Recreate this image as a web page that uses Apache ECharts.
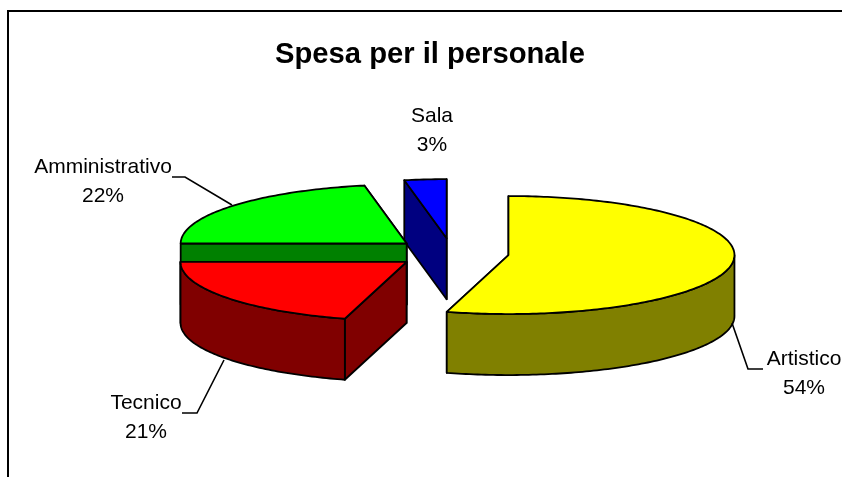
<!DOCTYPE html>
<html>
<head>
<meta charset="utf-8">
<style>
  html, body { margin: 0; padding: 0; background: #fff; }
  #chart { width: 842px; height: 477px; overflow: hidden; }
</style>
</head>
<body>
<div id="chart"></div>
<script src="https://cdn.jsdelivr.net/npm/echarts@6/dist/echarts.min.js"></script>
<script>
// dati (in senso orario dalle ore 12)
const categories = ['Artistico', 'Tecnico', 'Amministrativo', 'Sala'];
const values = [54.4, 20.6, 22, 3];

const topColors = ['#ffff00', '#ff0000', '#00ff00', '#0000ff'];
const sideColors = ['#808000', '#800000', '#008000', '#000080'];
const drawOrder = [3, 2, 1, 0]; // z di ogni fetta: Sala dietro, Artistico davanti

// geometria della torta finta 3d
const cx = 452, cy = 253, rx = 226, ry = 59, depth = 61, explode = 57;
const nudgeX = [0, 0, -1.4, 0]; // Amministrativo e Tecnico hanno lo stesso bordo destro nell'originale

// posizione etichette e linee guida
const labelPos = [[804, 374], [146, 418], [103, 182], [432, 131]];
const leaders = [
  [[732, 323], [748, 369], [763, 369]],
  [[224, 360], [197, 413], [182, 413]],
  [[232, 205], [185, 177], [172, 177]],
  null
];

const total = values.reduce((a, b) => a + b, 0);
const rad = (d) => d * Math.PI / 180;

function renderSlice(params, api) {
  const i = params.dataIndex;
  let before = 0;
  for (let k = 0; k < i; k++) before += values[k];
  const a0 = before / total * 360;
  const a1 = a0 + api.value(0) / total * 360;
  const mid = rad((a0 + a1) / 2);
  // centro spostato lungo la bisettrice
  const ox = cx + explode * Math.sin(mid) + nudgeX[i];
  const oy = cy - explode * Math.cos(mid) * ry / rx;
  const pt = (a, d) => [ox + rx * Math.sin(rad(a)), oy - ry * Math.cos(rad(a)) + (d || 0)];
  const arc = (from, to, d) => {
    const out = [];
    const n = Math.max(2, Math.ceil(Math.abs(to - from)));
    for (let k = 0; k <= n; k++) out.push(pt(from + (to - from) * k / n, d));
    return out;
  };
  const style = (fill) => ({ fill: fill, stroke: '#000', lineWidth: 1.8, lineJoin: 'round' });
  const z = drawOrder[i] * 10;
  const children = [];

  // facce di taglio: prima quella piu' in alto
  const edges = [a0, a1].sort((p, q) => pt(p)[1] - pt(q)[1]);
  edges.forEach((a, k) => {
    const p = pt(a);
    children.push({
      type: 'polygon',
      z2: z + k,
      shape: { points: [[ox, oy], p, [p[0], p[1] + depth], [ox, oy + depth]] },
      style: style(sideColors[i])
    });
  });

  // parete esterna, solo la meta' davanti
  const w0 = Math.max(a0, 90), w1 = Math.min(a1, 270);
  if (w1 > w0) {
    children.push({
      type: 'polygon',
      z2: z + 3,
      shape: { points: arc(w0, w1, 0).concat(arc(w1, w0, depth)) },
      style: style(sideColors[i])
    });
  }

  // faccia superiore
  children.push({
    type: 'polygon',
    z2: z + 4,
    shape: { points: [[ox, oy]].concat(arc(a0, a1, 0)) },
    style: style(topColors[i])
  });

  // linea guida
  if (leaders[i]) {
    children.push({
      type: 'polyline',
      z2: 100,
      shape: { points: leaders[i] },
      style: { fill: null, stroke: '#000', lineWidth: 1.6 }
    });
  }

  // etichetta
  children.push({
    type: 'text',
    z2: 101,
    style: {
      x: labelPos[i][0],
      y: labelPos[i][1],
      text: categories[i] + '\n' + Math.round(api.value(0)) + '%',
      fill: '#000',
      font: '21px "Liberation Sans", Arial, sans-serif',
      lineHeight: 29,
      align: 'center',
      verticalAlign: 'middle'
    }
  });

  return { type: 'group', children: children };
}

const chart = echarts.init(document.getElementById('chart'), null, { renderer: 'canvas' });
chart.setOption({
  animation: false,
  backgroundColor: '#fff',
  title: {
    text: 'Spesa per il personale',
    left: 425,
    top: 35,
    textAlign: 'center',
    textStyle: { color: '#000', fontFamily: '"Liberation Sans", Arial, sans-serif', fontWeight: 'bold', fontSize: 29.2 }
  },
  graphic: [{
    type: 'rect',
    shape: { x: 8, y: 11, width: 900, height: 600 },
    style: { fill: null, stroke: '#000', lineWidth: 2 }
  }],
  series: [{
    type: 'custom',
    coordinateSystem: 'none',
    silent: true,
    renderItem: renderSlice,
    data: values.map((v) => [v])
  }]
});
</script>
</body>
</html>
